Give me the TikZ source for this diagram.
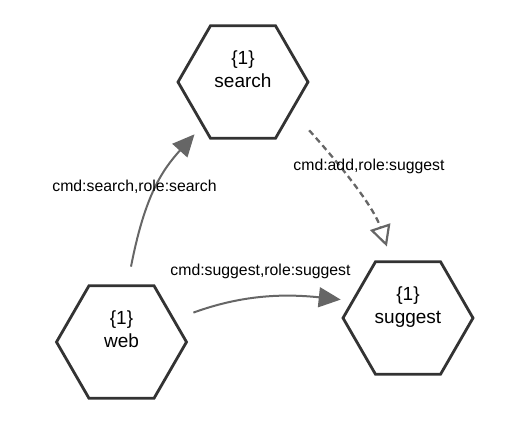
\documentclass[tikz,border=0pt]{standalone}
\usepackage{fontspec}
\setmainfont{Liberation Sans}
\usetikzlibrary{shapes.geometric,arrows.meta}
\definecolor{hexline}{HTML}{333333}
\definecolor{edgegray}{HTML}{666666}
\tikzset{
  hexnode/.style={regular polygon, regular polygon sides=6, minimum size=130pt,
    inner sep=0pt, draw=hexline, line width=2.8pt, fill=white},
  hextext/.style={font=\fontsize{19}{23}\selectfont, align=center, inner sep=0pt, anchor=base, yshift=-5.5pt},
  edgeline/.style={draw=edgegray, line width=2pt},
  solidtip/.style={-{Triangle[length=22pt,width=20pt]}},
  opentip/.style={-{Triangle[open,length=21pt,width=21pt,line width=2.2pt]}, line width=2.3pt, dash pattern=on 6pt off 4pt},
  elabel/.style={font=\fontsize{15.8}{18}\selectfont, inner sep=0pt, anchor=base}
}
\begin{document}
\begin{tikzpicture}
\useasboundingbox (0,0) rectangle (510pt,-424pt);
\begin{scope}[x=1pt,y=1pt]
\node[hexnode] (search) at (243,-82) {};
\node[hexnode] (web) at (121.5,-342) {};
\node[hexnode] (suggest) at (408,-318) {};
\node[hextext] (searchtext) at (search) {\{1\}\\search};
\node[hextext] (webtext) at (web) {\{1\}\\web};
\node[hextext] (suggesttext) at (suggest) {\{1\}\\suggest};

\draw[edgeline,solidtip,shorten <=18pt,shorten >=11pt]
  (web.84) .. controls +(79:90) and +(228:60) .. (search.227);
\draw[edgeline,solidtip,shorten <=19.6pt,shorten >=10.7pt]
  (web.23) .. controls +(20:70) and +(174:70) .. (suggest.163);
\draw[edgeline,opentip,shorten <=25pt,shorten >=14.5pt]
  (search.-31) .. controls +(-48:60) and +(108.5:60) .. (suggest.106);

\node[elabel] (l1) at (134.5,-191) {cmd:search,role:search};
\node[elabel] (l2) at (260.5,-275.5) {cmd:suggest,role:suggest};
\node[elabel] (l3) at (369,-170) {cmd:add,role:suggest};
\end{scope}
\end{tikzpicture}
\end{document}
